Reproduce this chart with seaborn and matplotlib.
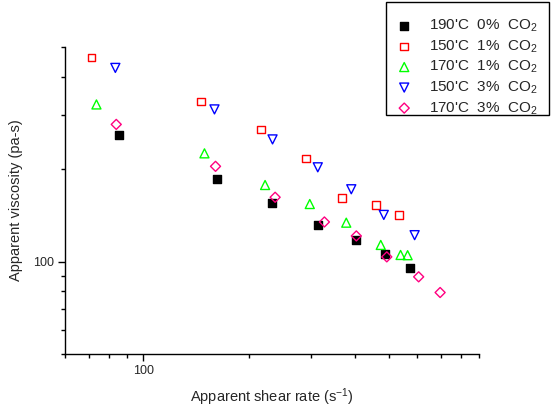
import matplotlib
matplotlib.use("Agg")
import matplotlib.pyplot as plt
from matplotlib.patches import Rectangle
from matplotlib.ticker import FixedLocator, NullFormatter, FixedFormatter
import seaborn as sns
import pandas as pd

# Apparent shear rate (1/s) and apparent viscosity (Pa.s) for each condition
rate_190c_0 = [85.2, 162.4, 231.7, 314.8, 401.6, 486.0, 574.0]
visc_190c_0 = [257.7, 185.4, 154.9, 131.9, 117.4, 105.7, 95.2]

rate_150c_1 = [71.3, 146.2, 216.3, 289.7, 367.2, 458.0, 532.9]
visc_150c_1 = [462.0, 332.4, 269.6, 216.9, 160.8, 153.2, 141.9]

rate_170c_1 = [73.7, 149.4, 222.1, 297.5, 377.7, 473.3, 538.8, 564.2]
visc_170c_1 = [325.0, 225.2, 177.6, 154.0, 133.9, 113.3, 105.1, 104.9]

rate_150c_3 = [83.4, 159.5, 233.2, 313.5, 390.3, 482.8, 590.7]
visc_150c_3 = [427.4, 313.1, 250.0, 202.8, 172.0, 141.9, 121.9]

rate_170c_3 = [83.9, 160.6, 237.2, 327.4, 403.4, 492.4, 606.5, 697.9]
visc_170c_3 = [279.8, 204.3, 162.0, 134.6, 121.2, 103.6, 89.2, 79.3]

labels = ["190'C  0%  CO$_2$", "150'C  1%  CO$_2$", "170'C  1%  CO$_2$",
          "150'C  3%  CO$_2$", "170'C  3%  CO$_2$"]

x_major = [100]
x_minor = [60, 70, 80, 90, 200, 300, 400, 500, 600, 700, 800, 900]
y_major = [100]
y_minor = [50, 60, 70, 80, 90, 200, 300, 400, 500]

sns.set_style("ticks")
plt.rcParams["font.family"] = ["Liberation Sans", "DejaVu Sans"]
plt.rcParams["mathtext.fontset"] = "custom"
plt.rcParams["mathtext.rm"] = "Liberation Sans"
plt.rcParams["mathtext.it"] = "Liberation Sans:italic"
plt.rcParams["mathtext.bf"] = "Liberation Sans:bold"

frames = []
for lab, xs, ys in zip(labels,
                       [rate_190c_0, rate_150c_1, rate_170c_1, rate_150c_3, rate_170c_3],
                       [visc_190c_0, visc_150c_1, visc_170c_1, visc_150c_3, visc_170c_3]):
    frames.append(pd.DataFrame({"rate": xs, "visc": ys, "series": lab}))
df = pd.concat(frames, ignore_index=True)

styles = {
    labels[0]: dict(marker="s", fc="black", ec="black", s=30),
    labels[1]: dict(marker="s", fc="none", ec="#FF0000", s=30),
    labels[2]: dict(marker="^", fc="none", ec="#00FF00", s=42),
    labels[3]: dict(marker="v", fc="none", ec="#0000FF", s=42),
    labels[4]: dict(marker="D", fc="none", ec="#FF0080", s=26),
}

W, H = 553, 408
fig = plt.figure(figsize=(W / 100, H / 100), dpi=100)
ax = fig.add_axes([65 / W, 1 - 354 / H, (479 - 65) / W, (354 - 47) / H])

for lab in labels:
    st = styles[lab]
    sns.scatterplot(data=df[df["series"] == lab], x="rate", y="visc", ax=ax,
                    marker=st["marker"], s=st["s"], facecolors=st["fc"],
                    edgecolors=st["ec"], linewidths=1.0, label=lab, zorder=3)

ax.set_xscale("log")
ax.set_yscale("log")
ax.set_xlim(60, 900)
ax.set_ylim(50, 500)

ax.xaxis.set_major_locator(FixedLocator(x_major))
ax.xaxis.set_major_formatter(FixedFormatter([str(v) for v in x_major]))
ax.xaxis.set_minor_locator(FixedLocator(x_minor))
ax.xaxis.set_minor_formatter(NullFormatter())
ax.yaxis.set_major_locator(FixedLocator(y_major))
ax.yaxis.set_major_formatter(FixedFormatter([str(v) for v in y_major]))
ax.yaxis.set_minor_locator(FixedLocator(y_minor))
ax.yaxis.set_minor_formatter(NullFormatter())

ax.tick_params(which="major", length=5, width=1.0, color="black", labelsize=9,
               direction="out", pad=3)
ax.tick_params(which="minor", length=3, width=1.0, color="black", direction="out")

for side in ["top", "right"]:
    ax.spines[side].set_visible(False)
for side in ["left", "bottom"]:
    ax.spines[side].set_color("black")
    ax.spines[side].set_linewidth(1.0)

ax.set_xlabel("Apparent shear rate (s$^{-1}$)", fontsize=10.5, labelpad=7)
ax.set_ylabel("Apparent viscosity (pa-s)", fontsize=10.5, labelpad=7)

# legend entries without frame; the box is drawn separately
leg = ax.legend(loc="upper left", bbox_to_anchor=(392 / W, 1 - 18 / H),
                bbox_transform=fig.transFigure, frameon=False,
                fontsize=11, borderpad=0.0, labelspacing=0.27,
                handletextpad=0.85, handlelength=1.6, borderaxespad=0)

box = Rectangle((386 / W, 1 - 115 / H), (549 - 386) / W, (115 - 2) / H,
                transform=fig.transFigure, fill=False, edgecolor="black",
                linewidth=1.0, zorder=5)
fig.add_artist(box)

fig.savefig("out.png", dpi=100, facecolor="white")
